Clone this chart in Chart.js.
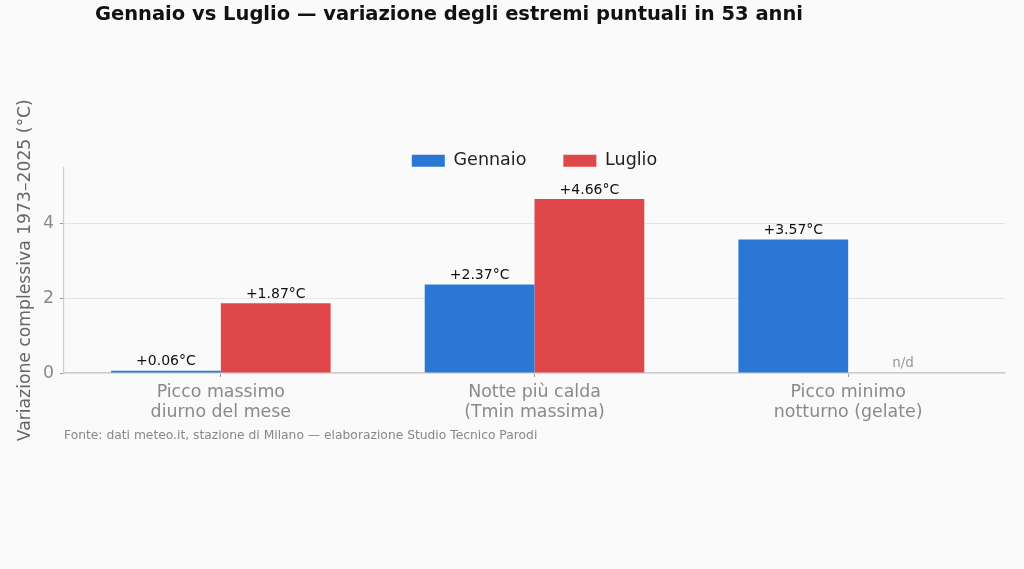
<!DOCTYPE html>
<html lang="it">
  <head>
    <meta charset="UTF-8" />
    <title>Gennaio vs Luglio</title>
    <style>
      body {
        margin: 0;
        background: #fafafa;
      }
      .wrap {
        position: relative;
        width: 1024px;
        height: 569px;
      }
    </style>
    <script src="https://cdn.jsdelivr.net/npm/chart.js"></script>
  </head>
  <body>
    <div class="wrap"><canvas id="chart"></canvas></div>
    <script>
      var categories = [
        ["Picco massimo", "diurno del mese"],
        ["Notte più calda", "(Tmin massima)"],
        ["Picco minimo", "notturno (gelate)"],
      ];
      var gennaio = [0.06, 2.37, 3.57];
      var luglio = [1.87, 4.66, null];
      var yTicks = [0, 2, 4];

      var FONT = "'DejaVu Sans', sans-serif";
      var TITLE = "Gennaio vs Luglio — variazione degli estremi puntuali in 53 anni";
      var SOURCE = "Fonte: dati meteo.it, stazione di Milano — elaborazione Studio Tecnico Parodi";

      function fmt(v) {
        return (v >= 0 ? "+" : "") + v.toFixed(2) + "°C";
      }

      // move the legend onto the top of the plot, centred on the chart area
      var legendPlace = {
        id: "legendPlace",
        afterLayout: function (chart) {
          var lg = chart.legend;
          var h = lg.bottom - lg.top;
          lg.left = chart.chartArea.left;
          lg.right = chart.chartArea.right;
          lg.top = 161 - lg.options.labels.padding - 9;
          lg.bottom = lg.top + h;
        },
      };

      var extras = {
        id: "extras",
        afterDatasetsDraw: function (chart) {
          var ctx = chart.ctx;
          var y0 = chart.scales.y.getPixelForValue(0);
          ctx.save();
          ctx.textAlign = "center";
          ctx.textBaseline = "bottom";
          chart.data.datasets.forEach(function (ds, i) {
            var meta = chart.getDatasetMeta(i);
            meta.data.forEach(function (bar, j) {
              var v = ds.data[j];
              if (v === null) {
                ctx.font = "13.5px " + FONT;
                ctx.fillStyle = "#999999";
                ctx.fillText("n/d", bar.x, y0 - 3);
              } else {
                ctx.font = "14px " + FONT;
                ctx.fillStyle = "#111111";
                ctx.fillText(fmt(v), bar.x, bar.y - 2);
              }
            });
          });
          // title and source note
          ctx.textBaseline = "middle";
          ctx.font = "bold 19.5px " + FONT;
          ctx.fillStyle = "#111111";
          ctx.fillText(TITLE, 449, 15);
          ctx.textAlign = "left";
          ctx.font = "12.3px " + FONT;
          ctx.fillStyle = "#888888";
          ctx.fillText(SOURCE, 64, 436);
          ctx.restore();
        },
      };

      new Chart(document.getElementById("chart"), {
        type: "bar",
        data: {
          labels: categories,
          datasets: [
            {
              label: "Gennaio",
              data: gennaio,
              backgroundColor: "#2a78d4",
              categoryPercentage: 0.7,
              barPercentage: 1.0,
            },
            {
              label: "Luglio",
              data: luglio,
              backgroundColor: "#e0474a",
              categoryPercentage: 0.7,
              barPercentage: 1.0,
            },
          ],
        },
        options: {
          responsive: true,
          maintainAspectRatio: false,
          animation: false,
          layout: {
            padding: { top: 103, right: 19, bottom: 146, left: 0 },
          },
          plugins: {
            tooltip: { enabled: false },
            legend: {
              position: "top",
              labels: {
                boxWidth: 33,
                boxHeight: 12,
                padding: 37,
                color: "#222222",
                font: { family: FONT, size: 17.5 },
              },
            },
          },
          scales: {
            x: {
              afterFit: function (s) {
                s.height = 50;
              },
              grid: {
                offset: false,
                drawOnChartArea: false,
                drawTicks: true,
                tickLength: 4,
                tickColor: "#999999",
              },
              border: { color: "#cccccc", width: 1.2 },
              ticks: {
                color: "#8a8a8a",
                padding: 5,
                font: { family: FONT, size: 17.4, lineHeight: 1.15 },
              },
            },
            y: {
              min: 0,
              max: 5.5,
              afterFit: function (s) {
                s.width = 64;
              },
              afterBuildTicks: function (s) {
                s.ticks = yTicks.map(function (v) {
                  return { value: v };
                });
              },
              grid: {
                color: "#e4e4e0",
                tickLength: 4,
                tickColor: "#999999",
              },
              border: { color: "#cccccc", width: 1.2 },
              ticks: {
                color: "#8a8a8a",
                padding: 6,
                font: { family: FONT, size: 17.4 },
              },
              title: {
                display: true,
                text: "Variazione complessiva 1973–2025 (°C)",
                color: "#666666",
                padding: { top: 15, bottom: 0 },
                font: { family: FONT, size: 17.2 },
              },
            },
          },
        },
        plugins: [legendPlace, extras],
      });
    </script>
  </body>
</html>
